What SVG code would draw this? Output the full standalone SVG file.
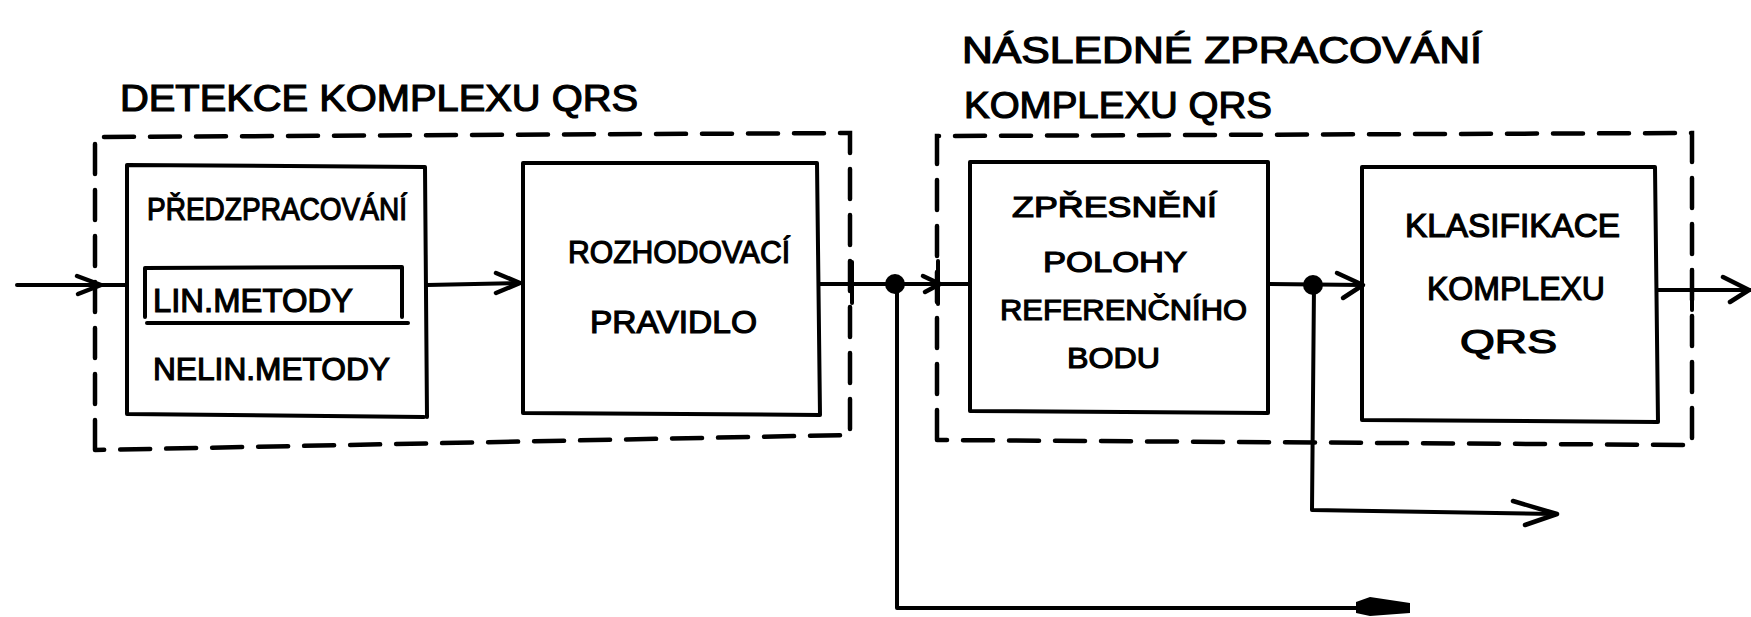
<svg xmlns="http://www.w3.org/2000/svg" width="1751" height="617" viewBox="0 0 1751 617">
<style>
.bg{fill:#fff}
.box{fill:none;stroke:#000;stroke-width:4;stroke-linejoin:round;stroke-linecap:round}
.dash{fill:none;stroke:#000;stroke-width:4.5;stroke-dasharray:30 16;stroke-linecap:round}
.ln{fill:none;stroke:#000;stroke-width:4;stroke-linecap:round;stroke-linejoin:round}
.ar{fill:none;stroke:#000;stroke-width:4.5;stroke-linecap:round;stroke-linejoin:round}
.t{font-family:"Liberation Sans","DejaVu Sans",sans-serif;fill:#000;stroke:#000;stroke-width:1.2;text-anchor:start}
</style>
<rect class="bg" x="0" y="0" width="1751" height="617"/>

<g id="group-detekce">
  <path class="dash" d="M95,450 L95,137 L850,133 L850,435 L95,450"/>
  <text class="t" x="120" y="111" font-size="37" textLength="518" lengthAdjust="spacingAndGlyphs">DETEKCE KOMPLEXU QRS</text>
</g>

<g id="group-nasledne">
  <path class="dash" d="M937,440 L937,136 L1692,133 L1692,445 L937,440"/>
  <text class="t" x="962" y="63" font-size="37" textLength="520" lengthAdjust="spacingAndGlyphs">NÁSLEDNÉ ZPRACOVÁNÍ</text>
  <text class="t" x="964" y="118" font-size="37" textLength="308" lengthAdjust="spacingAndGlyphs">KOMPLEXU QRS</text>
</g>

<g id="node-predzpracovani">
  <path class="box" d="M127,165 L425,167 L427,417 M127,165 L127,414 L424,417"/>
  <text class="t" x="147" y="220" font-size="31" textLength="260" lengthAdjust="spacingAndGlyphs">PŘEDZPRACOVÁNÍ</text>
  <path class="box" d="M145,317 L145,268 L402,267 L402,317"/>
  <text class="t" x="153" y="312" font-size="33" textLength="200" lengthAdjust="spacingAndGlyphs">LIN.METODY</text>
  <path class="box" d="M147,323 L408,323"/>
  <text class="t" x="153" y="380" font-size="32" textLength="237" lengthAdjust="spacingAndGlyphs">NELIN.METODY</text>
</g>

<g id="node-rozhodovaci">
  <path class="box" d="M523,163 L817,163 L820,415 L523,413 Z"/>
  <text class="t" x="568" y="263" font-size="32" textLength="222" lengthAdjust="spacingAndGlyphs">ROZHODOVACÍ</text>
  <text class="t" x="590" y="333" font-size="32" textLength="167" lengthAdjust="spacingAndGlyphs">PRAVIDLO</text>
</g>

<g id="node-zpresneni">
  <path class="box" d="M970,162 L1268,162 L1268,413 L970,411 Z"/>
  <text class="t" x="1012" y="217" font-size="30" textLength="205" lengthAdjust="spacingAndGlyphs">ZPŘESNĚNÍ</text>
  <text class="t" x="1043" y="272" font-size="30" textLength="144" lengthAdjust="spacingAndGlyphs">POLOHY</text>
  <text class="t" x="1000" y="320" font-size="30" textLength="247" lengthAdjust="spacingAndGlyphs">REFERENČNÍHO</text>
  <text class="t" x="1067" y="368" font-size="30" textLength="93" lengthAdjust="spacingAndGlyphs">BODU</text>
</g>

<g id="node-klasifikace">
  <path class="box" d="M1362,167 L1655,167 L1658,422 L1362,420 Z"/>
  <text class="t" x="1405" y="237" font-size="33" textLength="215" lengthAdjust="spacingAndGlyphs">KLASIFIKACE</text>
  <text class="t" x="1427" y="300" font-size="33" textLength="178" lengthAdjust="spacingAndGlyphs">KOMPLEXU</text>
  <text class="t" x="1460" y="353" font-size="33" textLength="97" lengthAdjust="spacingAndGlyphs">QRS</text>
</g>

<g id="connectors">
  <path class="ln" d="M17,285 L127,285"/>
  <path class="ar" d="M77,276 L101,285 L78,294"/>
  <path class="ln" d="M427,285 L521,283"/>
  <path class="ar" d="M496,273 L520,283 L496,293"/>
  <path class="ln" d="M820,284 L968,284"/>
  <path class="ln" d="M852,262 L852,303"/>
  <path class="ln" d="M938,261 L938,304"/>
  <path class="ar" d="M923,276 L940,284 L925,292"/>
  <circle cx="895" cy="284" r="10" fill="#000"/>
  <path class="ln" d="M897,284 L897,608 L1360,608"/>
  <path d="M1356,602 L1370,597 L1410,603 L1410,613 L1370,616 L1356,613 Z" fill="#000"/>
  <path class="ln" d="M1268,284 L1362,285"/>
  <path class="ar" d="M1337,273 L1363,285 L1343,298"/>
  <circle cx="1313" cy="285" r="10" fill="#000"/>
  <path class="ln" d="M1314,285 L1312,510 L1555,514"/>
  <path class="ar" d="M1513,501 L1557,514 L1525,525"/>
  <path class="ln" d="M1658,290 L1750,290"/>
  <path class="ln" d="M1692,270 L1692,310"/>
  <path class="ar" d="M1723,277 L1749,290 L1730,302"/>
</g>
</svg>
